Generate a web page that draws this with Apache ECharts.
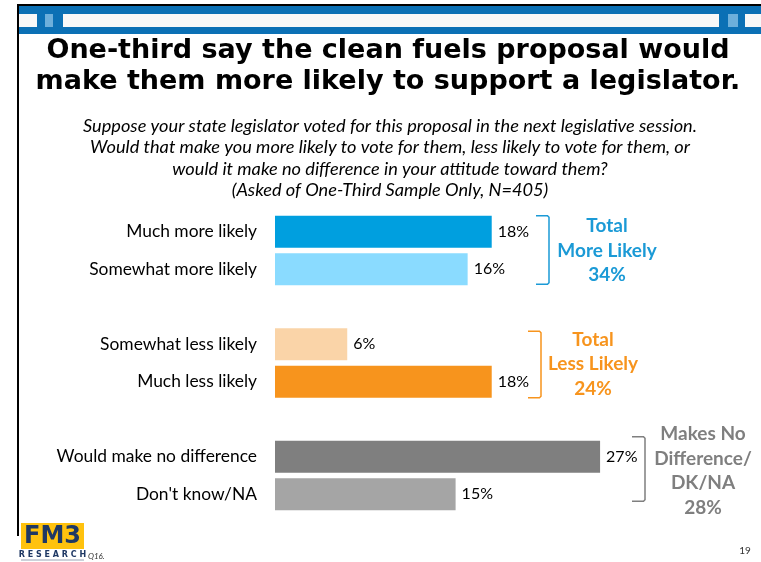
<!DOCTYPE html>
<html><head><meta charset="utf-8">
<script src="https://cdn.jsdelivr.net/npm/echarts@6/dist/echarts.min.js"></script>
<style>html,body{margin:0;padding:0;background:#fff}#c{width:761px;height:562px}</style>
</head><body><div id="c"></div>
<script>
// ---- data ----
const categories = ["Much more likely", "Somewhat more likely", "", "Somewhat less likely", "Much less likely", "", "Would make no difference", "Don't know/NA"];
const values = [18, 16, null, 6, 18, null, 27, 15];
const groupNames = ["Total\nMore Likely", "Total\nLess Likely", "Makes No\nDifference/\nDK/NA"];
const groupTotals = [34, 24, 28];
const groupMembers = [[0, 1], [3, 4], [6, 7]];
const titleLines = ["One-third say the clean fuels proposal would", "make them more likely to support a legislator."];
const subtitleLines = [
  "Suppose your state legislator voted for this proposal in the next legislative session.",
  "Would that make you more likely to vote for them, less likely to vote for them, or",
  "would it make no difference in your attitude toward them?",
  "(Asked of One-Third Sample Only, N=405)"
];

// ---- styles ----
const barColors = ['#009FDF', '#8ADBFF', null, '#FAD4A8', '#F7941D', null, '#7F7F7F', '#A5A5A5'];
const groupColors = ['#1B9AD6', '#F7941D', '#7F7F7F'];
const LATO = 'Lato, "Open Sans", sans-serif';

const chart = echarts.init(document.getElementById('c'), null, {renderer: 'canvas'});

const decor = [
  // frame lines
  {type: 'rect', shape: {x: 17, y: 4, width: 744, height: 2}, style: {fill: '#000'}},
  {type: 'rect', shape: {x: 17, y: 4, width: 2, height: 532}, style: {fill: '#000'}},
  // header band
  {type: 'rect', shape: {x: 19, y: 6, width: 742, height: 28}, style: {fill: '#0B70B5'}},
  {type: 'rect', shape: {x: 19, y: 14, width: 18, height: 13}, style: {fill: '#F8F8F8'}},
  {type: 'rect', shape: {x: 45, y: 14, width: 8, height: 13}, style: {fill: '#6DAFDB'}},
  {type: 'rect', shape: {x: 63, y: 14, width: 656, height: 13}, style: {fill: '#F8F8F8'}},
  {type: 'rect', shape: {x: 728, y: 14, width: 10, height: 13}, style: {fill: '#6DAFDB'}},
  {type: 'rect', shape: {x: 745, y: 14, width: 16, height: 13}, style: {fill: '#F8F8F8'}},
  // title
  {type: 'text', x: 388, y: 36, style: {text: titleLines.join('\n'), font: 'bold 27px "DejaVu Sans"', fill: '#000', align: 'center', textAlign: 'center', verticalAlign: 'top', textVerticalAlign: 'top', lineHeight: 30.5}},
  // subtitle
  {type: 'text', x: 390, y: 115, style: {text: subtitleLines.join('\n'), font: 'italic 18.2px ' + LATO, fill: '#000', align: 'center', textAlign: 'center', verticalAlign: 'top', textVerticalAlign: 'top', lineHeight: 21.5}},
  // logo
  {type: 'rect', shape: {x: 21, y: 523, width: 63, height: 26}, style: {fill: '#FFC20E'}},
  {type: 'text', x: 52.5, y: 536.5, style: {text: 'FM3', font: 'bold 24px "DejaVu Sans"', fill: '#1F3864', align: 'center', textAlign: 'center', verticalAlign: 'middle', textVerticalAlign: 'middle'}},
  {type: 'text', x: 52.5, y: 555, style: {text: 'R E S E A R C H', font: 'bold 8px "DejaVu Sans"', fill: '#1F3864', align: 'center', textAlign: 'center', verticalAlign: 'middle', textVerticalAlign: 'middle'}},
  {type: 'rect', shape: {x: 21, y: 559.5, width: 63, height: 1}, style: {fill: '#9AA3B5'}},
  {type: 'text', x: 88, y: 556, style: {text: 'Q16.', font: 'italic 8px ' + LATO, fill: '#333', align: 'left', textAlign: 'left', verticalAlign: 'middle', textVerticalAlign: 'middle'}},
  {type: 'text', x: 745, y: 551, style: {text: '19', font: '10px ' + LATO, fill: '#333', align: 'center', textAlign: 'center', verticalAlign: 'middle', textVerticalAlign: 'middle'}}
];

const option = {
  animation: false,
  backgroundColor: '#fff',
  grid: {left: 275, top: 213, height: 300, width: 12.04 * 30, containLabel: false},
  xAxis: {type: 'value', min: 0, max: 30, show: false},
  yAxis: {
    type: 'category', data: categories, inverse: true,
    axisLine: {show: false}, axisTick: {show: false}, splitLine: {show: false},
    axisLabel: {margin: 18, fontSize: 17.4, fontFamily: LATO, color: '#000'}
  },
  series: [{
    type: 'bar',
    barCategoryGap: '15%',
    data: values.map((v, i) => v == null ? null : {value: v, itemStyle: {color: barColors[i]}}),
    label: {show: true, position: 'right', distance: 6, formatter: '{c}%', fontSize: 16, fontFamily: LATO, color: '#000'}
  }],
  graphic: decor
};
chart.setOption(option);

// brackets and group totals, positioned from the category axis
const bracketX = [549, 541, 645];
const bracketPad = [[-16, 15], [-13, 16], [-20, 7]];
const textX = [607, 593, 703];
const textTopOff = [-14, -16, -27];
const extra = [];
groupMembers.forEach((m, g) => {
  const y0 = chart.convertToPixel({yAxisIndex: 0}, m[0]) + bracketPad[g][0];
  const y1 = chart.convertToPixel({yAxisIndex: 0}, m[1]) + bracketPad[g][1];
  const x = bracketX[g];
  extra.push({type: 'polyline', shape: {points: [[x - 13, y0], [x - 1.5, y0], [x, y0 + 1.5], [x, y1 - 1.5], [x - 1.5, y1], [x - 13, y1]]},
    style: {stroke: groupColors[g], lineWidth: 1.5, fill: null}});
  extra.push({type: 'text', x: textX[g], y: y0 + textTopOff[g] + 12,
    style: {text: groupNames[g] + '\n' + groupTotals[g] + '%', font: 'bold 19px ' + LATO, fill: groupColors[g],
      align: 'center', textAlign: 'center', verticalAlign: 'top', textVerticalAlign: 'top', lineHeight: 24.5}});
});
chart.setOption({graphic: decor.concat(extra)});
</script>
</body></html>
